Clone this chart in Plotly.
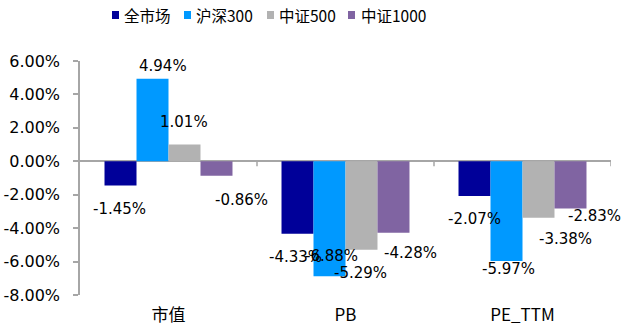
import plotly.graph_objects as go

# ---- data ----
categories = ["市值", "PB", "PE_TTM"]
series_names = ["全市场", "沪深300", "中证500", "中证1000"]
quanshichang = [-1.45, -4.33, -2.07]
hushen300 = [4.94, -6.88, -5.97]
zhongzheng500 = [1.01, -5.29, -3.38]
zhongzheng1000 = [-0.86, -4.28, -2.83]
y_ticks = [-8, -6, -4, -2, 0, 2, 4, 6]

# ---- styling ----
colors = ["#000099", "#0099FF", "#B2B2B2", "#8064A2"]
axis_gray = "#A6A6A6"
font_latin = "DejaVu Sans, Noto Sans CJK SC"
font_cjk = "Noto Sans CJK SC, DejaVu Sans"

W, H = 623, 331
L, R, T, B = 80, 611, 61, 295          # plot-area edges in pixels
BARGAP = 0.277

# label nudges (pixels) per series, per category: (right, down from bar end)
label_nudges = [
    [(-1, 23), (-2, 23), (0, 23)],
    [(10, -13), (2, -20), (1.5, 8)],
    [(0, -22), (-1, 23), (27, 21)],
    [(25.5, 24), (17, 20), (24.5, 7)],
]

def px_x(p):
    return (p - L) / (R - L)

def px_y(p):
    return (B - p) / (B - T)

series_values = [quanshichang, hushen300, zhongzheng500, zhongzheng1000]

fig = go.Figure()
for name, vals, col in zip(series_names, series_values, colors):
    fig.add_trace(go.Bar(x=categories, y=vals, name=name,
                         marker=dict(color=col, line=dict(width=0)),
                         showlegend=False))

# value labels
cat_px = (R - L) / len(categories)
bar_px = cat_px * (1 - BARGAP) / len(series_names)
annotations = []
for i, vals in enumerate(series_values):
    offset = (i - (len(series_names) - 1) / 2) * bar_px
    for j, v in enumerate(vals):
        dx, dy = label_nudges[i][j]
        annotations.append(dict(
            x=categories[j], y=v, xref="x", yref="y",
            text=f"{v:.2f}%", showarrow=False,
            xanchor="center", yanchor="middle",
            xshift=offset + dx, yshift=-dy,
            font=dict(family=font_latin, size=15, color="#000000"),
        ))

# legend row
legend_sq_x = [112, 184, 267, 348]
legend_tx_x = [122, 194, 277, 359]
shapes = []
for name, col, sx, tx in zip(series_names, colors, legend_sq_x, legend_tx_x):
    shapes.append(dict(type="rect", xref="paper", yref="paper",
                       x0=px_x(sx), x1=px_x(sx + 7), y0=px_y(19), y1=px_y(11),
                       fillcolor=col, line=dict(width=0)))
    annotations.append(dict(x=px_x(tx), y=px_y(15), xref="paper", yref="paper",
                            text=name, showarrow=False, xanchor="left",
                            yanchor="middle",
                            font=dict(family=font_cjk, size=15.5, color="#000000")))

# tick marks on the zero line at category boundaries
for b in [0.5, 1.5, 2.5]:
    shapes.append(dict(type="line", xref="x", yref="y", x0=b, x1=b,
                       ysizemode="pixel", yanchor=0, y0=0, y1=-5,
                       line=dict(color=axis_gray, width=1.5)))

fig.update_layout(
    width=W, height=H,
    margin=dict(l=L, r=W - R, t=T, b=H - B, autoexpand=False),
    paper_bgcolor="white", plot_bgcolor="white",
    barmode="group", bargap=BARGAP, bargroupgap=0,
    annotations=annotations, shapes=shapes,
    showlegend=False,
    xaxis=dict(showline=False, ticks="", showgrid=False, automargin=False,
               range=[-0.5, 2.5],
               tickfont=dict(family=font_cjk, size=17, color="#000000"),
               ticklabelstandoff=8),
    yaxis=dict(range=[-8, 6], tickvals=y_ticks, automargin=False,
               ticktext=[f"{t:.2f}%" for t in y_ticks],
               showgrid=False, showline=True, linecolor=axis_gray, linewidth=1.5,
               ticks="outside", ticklen=5, tickcolor=axis_gray, tickwidth=1.5,
               zeroline=True, zerolinecolor=axis_gray, zerolinewidth=1.5,
               tickfont=dict(family=font_latin, size=16, color="#000000"),
               ticklabelstandoff=10),
)

fig.write_html("out.html")
